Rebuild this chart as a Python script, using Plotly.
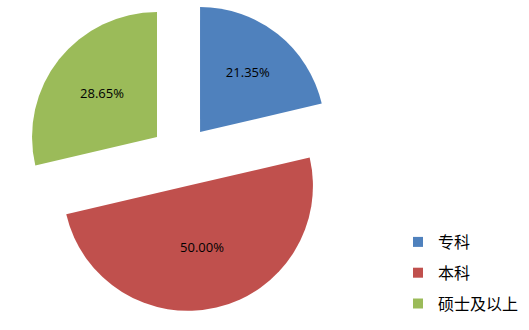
import plotly.graph_objects as go

categories = ["专科", "本科", "硕士及以上"]
values = [21.35, 50.00, 28.65]
colors = ["#4F81BD", "#C0504D", "#9BBB59"]
pull_amount = 0.245

W, H = 529, 330
cx, cy, half = 181, 156, 155.6

fig = go.Figure(go.Pie(
    labels=categories,
    values=values,
    sort=False,
    direction="clockwise",
    rotation=0,
    pull=[pull_amount] * len(values),
    marker=dict(colors=colors, line=dict(width=0)),
    texttemplate="%{value:.2f}%",
    textposition="inside",
    insidetextorientation="horizontal",
    textfont=dict(family="Open Sans, Noto Sans", size=13, color="black"),
    domain=dict(x=[(cx - half) / W, (cx + half) / W],
                y=[1 - (cy + half) / H, 1 - (cy - half) / H]),
    hoverinfo="label+percent",
    showlegend=False,
))

# legend entries (one per category, each in its own group so spacing can be set)
for name, col in zip(categories, colors):
    fig.add_trace(go.Scatter(
        x=[None], y=[None], mode="markers", name=name,
        legendgroup=name, showlegend=True,
        marker=dict(symbol="square", size=10, color=col),
        hoverinfo="skip",
    ))

fig.update_layout(
    width=W, height=H,
    margin=dict(l=0, r=0, t=0, b=0),
    paper_bgcolor="white",
    plot_bgcolor="white",
    xaxis=dict(visible=False),
    yaxis=dict(visible=False),
    showlegend=True,
    legend=dict(
        x=398 / W, xanchor="left",
        y=1 - 225 / H, yanchor="top",
        traceorder="grouped",
        tracegroupgap=7,
        font=dict(family="Noto Sans CJK SC", size=16, color="black"),
        bgcolor="rgba(0,0,0,0)",
    ),
)

fig.write_html("out.html")
